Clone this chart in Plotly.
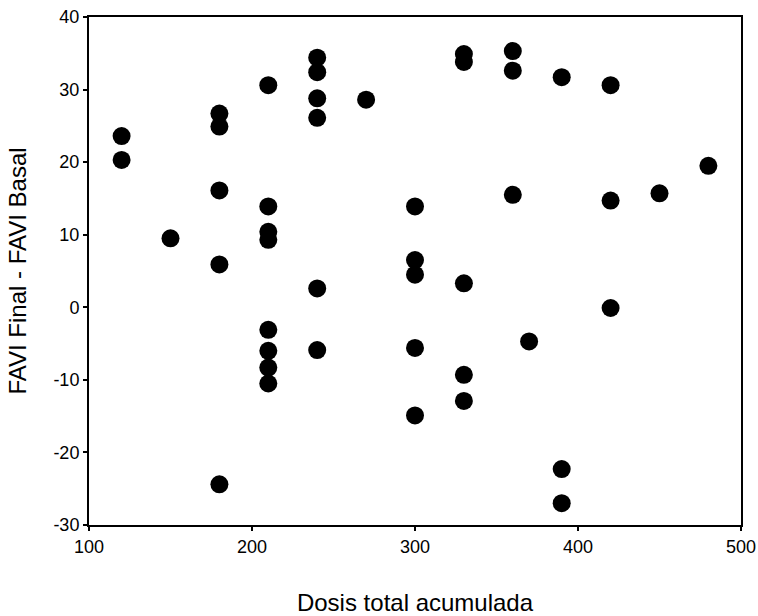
import plotly.graph_objects as go

# Data
dosis = [120, 120,
         150,
         180, 180, 180, 180, 180,
         210, 210, 210, 210, 210, 210, 210, 210,
         240, 240, 240, 240, 240, 240,
         270,
         300, 300, 300, 300, 300,
         330, 330, 330, 330, 330,
         360, 360, 360,
         370,
         390, 390, 390,
         420, 420, 420,
         450,
         480]
favi_diff = [23.6, 20.3,
             9.5,
             26.7, 24.9, 16.1, 5.9, -24.4,
             30.6, 13.9, 10.4, 9.3, -3.1, -6.0, -8.3, -10.5,
             34.4, 32.4, 28.8, 26.1, 2.6, -5.9,
             28.6,
             13.9, 6.5, 4.5, -5.6, -14.9,
             34.9, 33.8, 3.3, -9.3, -12.9,
             35.3, 32.6, 15.5,
             -4.7,
             31.7, -22.3, -27.0,
             30.6, 14.7, -0.1,
             15.7,
             19.5]

x_ticks = [100, 200, 300, 400, 500]
y_ticks = [-30, -20, -10, 0, 10, 20, 30, 40]

FONT = "Liberation Sans, Arial, sans-serif"

fig = go.Figure(
    go.Scatter(
        x=dosis, y=favi_diff, mode="markers",
        marker=dict(color="black", size=18, line=dict(width=0)),
        showlegend=False, hoverinfo="x+y",
    )
)

axis_common = dict(
    showgrid=False, zeroline=False, automargin=False,
    showline=True, linecolor="black", linewidth=2, mirror=True,
    ticks="outside", ticklen=4, tickwidth=2, tickcolor="black",
    tickfont=dict(family=FONT, size=18, color="black"),
)

fig.update_xaxes(
    range=[100, 500], tickmode="array", tickvals=x_ticks,
    ticktext=[str(v) for v in x_ticks],
    title=dict(text="Dosis total acumulada", standoff=40,
               font=dict(family=FONT, size=24, color="black")),
    **axis_common,
)
fig.update_yaxes(
    range=[-30, 40], tickmode="array", tickvals=y_ticks,
    ticktext=[str(v) for v in y_ticks],
    title=dict(text="FAVI Final - FAVI Basal", standoff=20,
               font=dict(family=FONT, size=24, color="black")),
    **axis_common,
)

fig.update_layout(
    width=758, height=616,
    margin=dict(l=89, r=17, t=17, b=91),
    paper_bgcolor="white", plot_bgcolor="white",
)

fig.write_html(
    "out.html",
    config={"displayModeBar": False},
    post_script="document.body.style.margin='0';document.body.style.overflow='hidden';",
)
